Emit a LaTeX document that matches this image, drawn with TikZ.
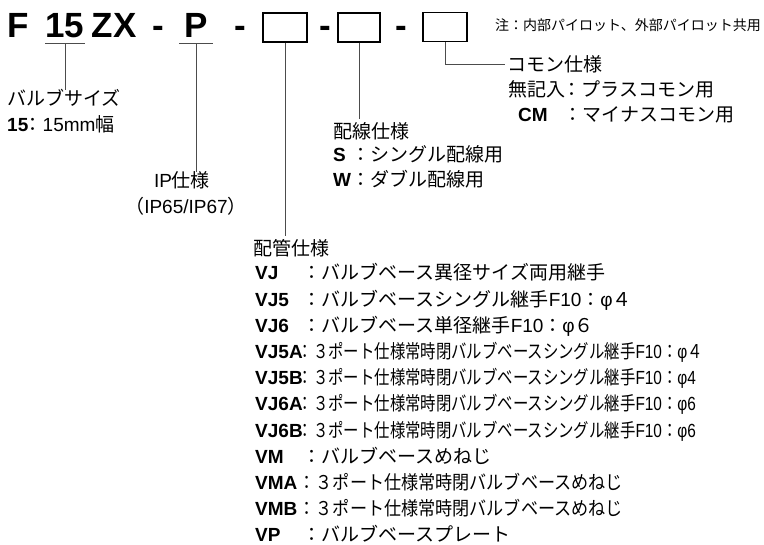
\documentclass[tikz,border=0pt]{standalone}
\usepackage{fontspec}
\setmainfont{Liberation Sans}
\newfontfamily\jp{Noto Sans CJK JP}
\newcommand{\latn}[1]{{\rmfamily #1}}

\begin{document}
\begin{tikzpicture}[x=1pt, y=-1pt,
  title/.style={font=\fontsize{35}{35}\selectfont\bfseries, inner sep=0pt, anchor=base},
  codebox/.style={draw, line width=1.3pt, minimum width=44pt, minimum height=29pt, inner sep=0pt},
  lead/.style={draw=black!70, line width=0.9pt},
  head/.style={font=\fontsize{19}{19}\selectfont\jp, inner sep=0pt, anchor=base west},
  code/.style={font=\fontsize{19}{19}\selectfont\bfseries, inner sep=0pt, anchor=base west},
  desc/.style={font=\fontsize{19}{19}\selectfont\jp, inner sep=0pt, anchor=base west},
  note/.style={font=\fontsize{14}{14}\selectfont\jp, inner sep=0pt, anchor=base west}
]
  \useasboundingbox (0,0) rectangle (764,545);

  % model code
  \node[title] (f)   at (18.5,38) {F};
  \node[title, inner ysep=5pt] (n15) at (65,38) {15};
  \node[title] (zx)  at (114,38) {ZX};
  \node[title] (d1)  at (158.5,38) {-};
  \node[title, inner xsep=5pt, inner ysep=5pt] (p) at (196,38) {P};
  \node[title] (d2)  at (240,38) {-};
  \node[codebox] (box1) at (285,27.5) {};
  \node[title] (d3)  at (325,38) {-};
  \node[codebox, minimum width=42pt] (box2) at (359,27.5) {};
  \node[title] (d4)  at (401,38) {-};
  \node[codebox] (box3) at (445,27) {};
  \node[note] (note) at (495,31) {注：内部パイロット、外部パイロット共用};

  \draw[lead] (n15.south west) -- (n15.south east);
  \draw[lead] (p.south west) -- (p.south east);

  % valve size
  \node[head, anchor=base] (size) at (64,106) {バルブサイズ};
  \node[code] (size15)  at (7,132) {15};
  \node[desc] (size15d) at (23.5,132) {：\latn{15mm}幅};

  % IP
  \node[head, anchor=base] (ip)  at (182,188) {\latn{IP}仕様};
  \node[desc, anchor=base] (ipd) at (186,214) {（\latn{IP65/IP67}）};

  % wiring
  \node[head] (wire) at (333,139) {配線仕様};
  \node[code] (ws)  at (333,162) {S};
  \node[desc] (wsd) at (351,162) {：シングル配線用};
  \node[code] (ww)  at (333,187) {W};
  \node[desc] (wwd) at (351,187) {：ダブル配線用};

  % common
  \node[head] (common) at (507,72) {コモン仕様};
  \node[desc] (cnone)  at (508,97) {無記入};
  \node[desc] (cnoned) at (562.5,97) {：プラスコモン用};
  \node[code] (cm)     at (518,122) {CM};
  \node[desc] (cmd)    at (563.5,122) {：マイナスコモン用};

  % piping
  \node[head] (pipe) at (253,256) {配管仕様};
  \node[code] (vj)    at (255,280)   {VJ};
  \node[desc] (vjd)   at (302.5,280) {：バルブベース異径サイズ両用継手};
  \node[code] (vj5)   at (255,306.2) {VJ5};
  \node[desc] (vj5d)  at (302.5,306.2) {：バルブベースシングル継手\latn{F10}：\latn{φ}４};
  \node[code] (vj6)   at (255,332.4) {VJ6};
  \node[desc] (vj6d)  at (302.5,332.4) {：バルブベース単径継手\latn{F10}：\latn{φ}６};
  \node[code] (vj5a)  at (255,358.6) {VJ5A};
  \node[desc] (vj5ad) at (297.5,358.6) {\scalebox{0.81}[1]{：３ポート仕様常時閉バルブベースシングル継手\latn{F10}：\latn{φ}４}};
  \node[code] (vj5b)  at (255,384.8) {VJ5B};
  \node[desc] (vj5bd) at (297.5,384.8) {\scalebox{0.81}[1]{：３ポート仕様常時閉バルブベースシングル継手\latn{F10}：\latn{φ4}}};
  \node[code] (vj6a)  at (255,411)   {VJ6A};
  \node[desc] (vj6ad) at (297.5,411) {\scalebox{0.81}[1]{：３ポート仕様常時閉バルブベースシングル継手\latn{F10}：\latn{φ6}}};
  \node[code] (vj6b)  at (255,437.2) {VJ6B};
  \node[desc] (vj6bd) at (297.5,437.2) {\scalebox{0.81}[1]{：３ポート仕様常時閉バルブベースシングル継手\latn{F10}：\latn{φ6}}};
  \node[code] (vm)    at (255,463.4) {VM};
  \node[desc] (vmd)   at (302.5,463.4) {：バルブベースめねじ};
  \node[code] (vma)   at (255,489.6) {VMA};
  \node[desc] (vmad)  at (298.5,489.6) {\scalebox{0.9}[1]{：３ポート仕様常時閉バルブベースめねじ}};
  \node[code] (vmb)   at (255,515.8) {VMB};
  \node[desc] (vmbd)  at (298.5,515.8) {\scalebox{0.9}[1]{：３ポート仕様常時閉バルブベースめねじ}};
  \node[code] (vp)    at (255,542)   {VP};
  \node[desc] (vpd)   at (302.5,542) {：バルブベースプレート};

  % leaders
  \draw[lead] (n15.south) -- (n15.south |- size.north);
  \draw[lead] (p.south) -- (p.south |- ip.north);
  \draw[lead, shorten >=4pt] (box1.south) -- (box1.south |- pipe.north);
  \draw[lead, shorten >=4pt] (box2.south) -- (box2.south |- wire.north);
  \draw[lead] (box3.south) |- ([xshift=-2pt]common.west);
\end{tikzpicture}
\end{document}
